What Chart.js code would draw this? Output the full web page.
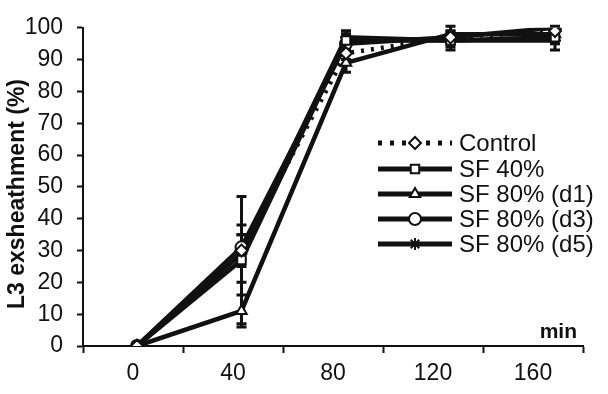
<!DOCTYPE html>
<html>
<head>
<meta charset="utf-8">
<script src="https://cdn.jsdelivr.net/npm/chart.js"></script>
<style>
  html, body { margin: 0; padding: 0; background: #fff; }
  #wrap { width: 608px; height: 394px; }
</style>
</head>
<body>
<div id="wrap"><canvas id="c" width="608" height="394"></canvas></div>
<script>
// ---- data ----
const categories = ['0', '40', '80', '120', '160'];
const minutes = [0, 40, 80, 120, 160];
const yTicks = [0, 10, 20, 30, 40, 50, 60, 70, 80, 90, 100];

const control   = [0, 30, 92, 97, 99];
const sf40      = [0, 27, 96, 96, 97];
const sf80d1    = [0, 11, 89, 98, 98];
const sf80d3    = [0, 31, 95, 97, 100];
const sf80d5    = [0, 29, 97, 96, 96];

const controlErr = [0, 5, 2, 2, 1];
const sf40Err    = [0, 20, 3, 2, 2];
const sf80d1Err  = [0, 5, 3, 3, 1];
const sf80d3Err  = [0, 4, 3, 1, 1];
const sf80d5Err  = [0, 9, 2, 3, 3];

const seriesNames = ['Control', 'SF 40%', 'SF 80% (d1)', 'SF 80% (d3)', 'SF 80% (d5)'];
const seriesValues = [control, sf40, sf80d1, sf80d3, sf80d5];
const seriesErrors = [controlErr, sf40Err, sf80d1Err, sf80d3Err, sf80d5Err];
const pointStyles = ['rectRot', 'rect', 'triangle', 'circle', 'star'];

const FONT = "'Liberation Sans', Arial, sans-serif";
const INK = '#111';

const datasets = seriesValues.map((vals, i) => ({
  label: seriesNames[i],
  data: vals.map((v, j) => ({ x: minutes[j], y: v })),
  errors: seriesErrors[i],
  xAxisID: 'xd',
  yAxisID: 'y',
  borderColor: INK,
  borderWidth: 4.5,
  borderDash: i === 0 ? [3, 7] : [],
  pointStyle: pointStyles[i],
  pointRadius: 6,
  pointBorderWidth: 2,
  pointBorderColor: INK,
  pointBackgroundColor: '#fff',
  tension: 0,
  fill: false,
  order: i
}));

const errorBars = {
  id: 'errorBars',
  beforeDatasetsDraw(chart) {
    const ctx = chart.ctx;
    const xs = chart.scales.xd, ys = chart.scales.y;
    ctx.save();
    ctx.strokeStyle = INK;
    ctx.lineWidth = 3;
    chart.data.datasets.forEach(ds => {
      ds.data.forEach((p, j) => {
        const e = ds.errors[j];
        if (!e) return;
        const x = xs.getPixelForValue(p.x);
        const y1 = ys.getPixelForValue(p.y - e);
        const y2 = ys.getPixelForValue(Math.min(p.y + e, 100.5));
        ctx.beginPath();
        ctx.moveTo(x, y1); ctx.lineTo(x, y2);
        ctx.moveTo(x - 5, y1); ctx.lineTo(x + 5, y1);
        ctx.moveTo(x - 5, y2); ctx.lineTo(x + 5, y2);
        ctx.stroke();
      });
    });
    ctx.restore();
  }
};

const extras = {
  id: 'extras',
  afterDraw(chart) {
    const ctx = chart.ctx;
    ctx.save();
    ctx.fillStyle = INK;
    // y title
    ctx.save();
    ctx.translate(18, 194);
    ctx.rotate(-Math.PI / 2);
    ctx.font = 'bold 23px ' + FONT;
    ctx.textAlign = 'center';
    ctx.textBaseline = 'middle';
    ctx.fillText('L3 exsheathment (%)', 0, 0);
    ctx.restore();
    // min
    ctx.font = 'bold 21px ' + FONT;
    ctx.textAlign = 'right';
    ctx.textBaseline = 'alphabetic';
    ctx.fillText('min', 577, 338);
    // legend
    const x0 = 378, x1 = 452, xm = 415, tx = 459;
    const rowY = [143, 169, 194, 219, 244];
    chart.data.datasets.forEach((ds, i) => {
      const y = rowY[i];
      ctx.save();
      ctx.strokeStyle = INK;
      ctx.lineWidth = 5;
      ctx.setLineDash(ds.borderDash.length ? [4, 8] : []);
      ctx.beginPath();
      ctx.moveTo(x0, y); ctx.lineTo(x1, y);
      ctx.stroke();
      ctx.restore();
      ctx.save();
      ctx.fillStyle = '#fff';
      ctx.strokeStyle = INK;
      ctx.lineWidth = 2;
      Chart.helpers.drawPoint(ctx, { pointStyle: ds.pointStyle, radius: 6, borderWidth: 2, rotation: 0 }, xm, y);
      ctx.restore();
      ctx.font = '24px ' + FONT;
      ctx.textAlign = 'left';
      ctx.textBaseline = 'middle';
      ctx.fillText(ds.label, tx, y + 1);
    });
    ctx.restore();
  }
};

new Chart(document.getElementById('c'), {
  type: 'line',
  data: { labels: categories, datasets },
  plugins: [errorBars, extras],
  options: {
    responsive: false,
    animation: false,
    events: [],
    layout: { padding: { left: 0, right: 25, top: 20, bottom: 0 } },
    plugins: { legend: { display: false }, tooltip: { enabled: false } },
    scales: {
      x: {
        type: 'category',
        labels: categories,
        offset: true,
        position: 'bottom',
        grid: { offset: true, drawOnChartArea: false, tickLength: 7, tickColor: INK, tickWidth: 2 },
        border: { display: true, color: INK, width: 2 },
        ticks: { color: INK, font: { family: FONT, size: 23 }, padding: 7, maxRotation: 0 },
        afterFit(s) { s.height = 48; }
      },
      xd: {
        type: 'linear',
        display: false,
        min: -20.67,
        max: 170.72
      },
      y: {
        type: 'linear',
        min: 0,
        max: 100,
        afterBuildTicks(s) { s.ticks = yTicks.map(v => ({ value: v })); },
        grid: { drawOnChartArea: false, tickLength: 6, tickColor: INK, tickWidth: 2 },
        border: { display: true, color: INK, width: 2 },
        ticks: { color: INK, font: { family: FONT, size: 23 }, padding: 14 },
        afterFit(s) { s.width = 83; }
      }
    }
  }
});
</script>
</body>
</html>
